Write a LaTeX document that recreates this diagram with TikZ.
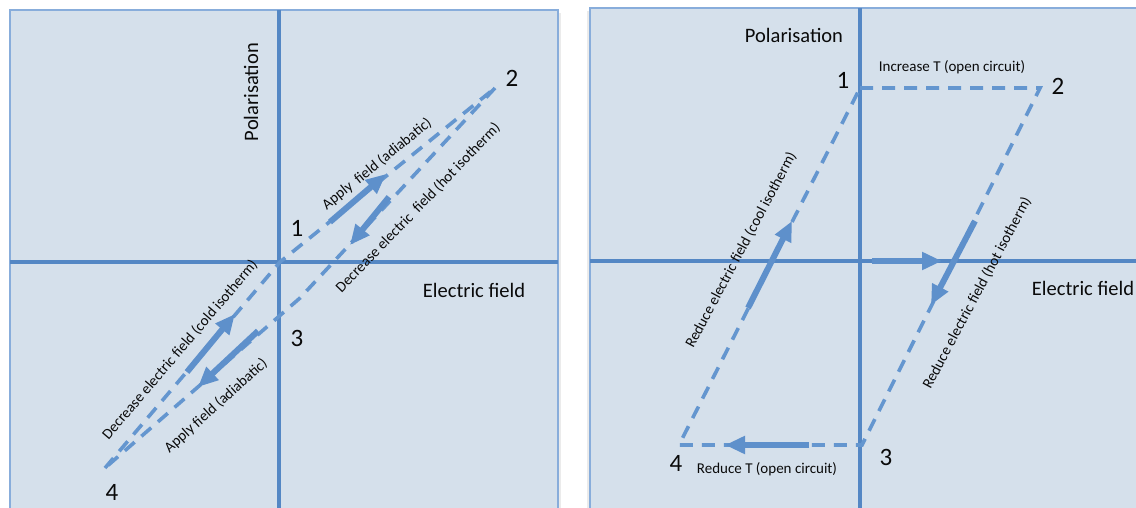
\documentclass[tikz,border=0pt]{standalone}
\usepackage{fontspec}
\setmainfont{Carlito}
\usetikzlibrary{arrows.meta}
\definecolor{panelfill}{RGB}{213,224,235}
\definecolor{panelborder}{RGB}{136,173,219}
\definecolor{axiscol}{RGB}{84,135,196}
\definecolor{dashcol}{RGB}{100,150,207}
\definecolor{arrowcol}{RGB}{94,144,203}
\definecolor{txtcol}{RGB}{10,10,10}
\tikzset{
  panel/.style={fill=panelfill},
  pborder/.style={draw=panelborder, line width=2pt},
  axisline/.style={draw=axiscol, line width=3.6pt},
  cycleline/.style={draw=dashcol, line width=3.6pt, dash pattern=on 13pt off 9pt},
  bigarrow/.style={draw=arrowcol, line width=6pt, -{Triangle[length=20pt,width=17pt]}},
  axlabel/.style={font=\fontsize{20.5}{24}\selectfont, text=txtcol, inner sep=0pt},
  numlabel/.style={font=\fontsize{25}{29}\selectfont, text=txtcol, inner sep=0pt},
  steplabel/.style={font=\fontsize{15}{18}\selectfont, text=txtcol, inner sep=0pt}
}
\begin{document}
\begin{tikzpicture}[x=1pt,y=-1pt]
\useasboundingbox (0,0) rectangle (1136,508);
\fill[white] (0,0) rectangle (1136,508);
% shadows
\fill[black, opacity=0.08] (13,13) rectangle (561,520);
\fill[black, opacity=0.08] (587,11) rectangle (1150,520);
% left panel
\fill[panel] (10,10) rectangle (558,520);
\draw[pborder] (10,520) -- (10,10) -- (558,10) -- (558,520);
% right panel
\fill[panel] (590,8) rectangle (1150,520);
\draw[pborder] (590,520) -- (590,8) -- (1150,8);

% ---------- left panel ----------
\coordinate (LT) at (279,10);
\coordinate (LB) at (279,520);
\coordinate (LL) at (10,262);
\coordinate (LR) at (558,262);
\draw[axisline] (LT) -- (LB);
\draw[axisline] (LL) -- (LR);

\coordinate (L1) at (280,262);
\coordinate (L2) at (495,88);
\coordinate (L3) at (300,298);
\coordinate (L4) at (105,468);
\draw[cycleline] (L4) -- (L1) -- (L2);
\draw[cycleline] (L2) -- (L3) -- (L4);

\node[numlabel] (ln1) at (297,228) {1};
\node[numlabel] (ln2) at (512,78) {2};
\node[numlabel] (ln3) at (297,338) {3};
\node[numlabel] (ln4) at (112,492) {4};

\node[axlabel, rotate=90] (lpol) at (251,92) {Polarisation};
\node[axlabel] (lef) at (474,290) {Electric field};

\coordinate (la1s) at (330,222);
\coordinate (la1e) at (386,174);
\draw[bigarrow] (la1s) -- (la1e);
\coordinate (la2s) at (389,197);
\coordinate (la2e) at (350,245);
\draw[bigarrow] (la2s) -- (la2e);
\coordinate (la3s) at (187,372);
\coordinate (la3e) at (235,314);
\draw[bigarrow] (la3s) -- (la3e);
\coordinate (la4s) at (258,331);
\coordinate (la4e) at (198,387);
\draw[bigarrow] (la4s) -- (la4e);

\node[steplabel, rotate=39] (lt1) at (377,164) {Apply\ \ field (adiabatic)};
\node[steplabel, rotate=46] (lt2) at (418,208) {Decrease electric\ \ field (hot isotherm)};
\node[steplabel, rotate=49.5] (lt3) at (180,350) {Decrease electric field (cold isotherm)};
\node[steplabel, rotate=42] (lt4) at (216,406) {Apply field (adiabatic)};

% ---------- right panel ----------
\coordinate (RT) at (860,8);
\coordinate (RB) at (860,520);
\coordinate (RL) at (590,261);
\coordinate (RR) at (1150,261);
\draw[axisline] (RT) -- (RB);
\draw[axisline] (RL) -- (RR);

\coordinate (R1) at (860,88);
\coordinate (R2) at (1040,88);
\coordinate (R3) at (862,445);
\coordinate (R4) at (679,445);
\draw[cycleline] (R1) -- (R2) -- (R3) -- (R4) -- (R1);

\node[numlabel] (rn1) at (843,80) {1};
\node[numlabel] (rn2) at (1058,86) {2};
\node[numlabel] (rn3) at (886,457) {3};
\node[numlabel] (rn4) at (676,463) {4};

\node[axlabel] (rpol) at (794,35) {Polarisation};
\node[axlabel] (ref) at (1083,288) {Electric field};

\node[steplabel] (rt1) at (952,67) {Increase T (open circuit)};
\node[steplabel] (rt2) at (767,469) {Reduce T (open circuit)};
\node[steplabel, rotate=62] (rt3) at (741,250) {Reduce electric field (cool isotherm)};
\node[steplabel, rotate=62] (rt4) at (977,293) {Reduce electric field (hot isotherm)};

\coordinate (ra1s) at (872,261);
\coordinate (ra1e) at (942,261);
\draw[bigarrow] (ra1s) -- (ra1e);
\coordinate (ra2s) at (748,308);
\coordinate (ra2e) at (792,221);
\draw[bigarrow] (ra2s) -- (ra2e);
\coordinate (ra3s) at (975,221);
\coordinate (ra3e) at (931,305);
\draw[bigarrow] (ra3s) -- (ra3e);
\coordinate (ra4s) at (809,445);
\coordinate (ra4e) at (725,445);
\draw[bigarrow] (ra4s) -- (ra4e);
\end{tikzpicture}
\end{document}
